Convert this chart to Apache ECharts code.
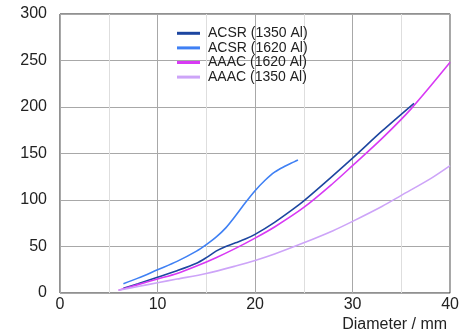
<!DOCTYPE html>
<html>
<head>
<meta charset="utf-8">
<script src="https://cdn.jsdelivr.net/npm/echarts@6/dist/echarts.min.js"></script>
<style>
  html, body { margin: 0; padding: 0; background: #fff; }
  #chart { width: 462px; height: 336px; }
</style>
</head>
<body>
<div id="chart"></div>
<script>
// conductor mass vs diameter

const seriesNames = ['ACSR (1350 Al)', 'ACSR (1620 Al)', 'AAAC (1620 Al)', 'AAAC (1350 Al)'];
const seriesColors = ['#1d46a0', '#3f80f4', '#d83af4', '#cda4f8'];

// [diameter mm, value]
const acsr1350 = [[6.5, 5], [8, 10], [10, 17], [12, 24], [14, 32], [15, 38], [16, 45], [17, 50], [18, 54], [19, 58], [20, 63], [22, 76], [24, 91], [25, 99], [27, 117], [30, 145], [33, 174], [36.3, 204]];
const acsr1620 = [[6.5, 10], [8, 16], [10, 25], [12, 34], [14, 45], [15, 52], [16, 60], [17, 70], [18, 83], [19, 97], [20, 110], [21, 121], [22, 130], [23, 136], [24, 141], [24.4, 143]];
const aaac1620 = [[6, 3], [8, 9], [10, 15], [12, 21], [14, 29], [16, 38], [18, 48], [20, 59], [22, 71], [25, 92], [28, 118], [30, 137], [33, 166], [36, 198], [40, 248]];
const aaac1350 = [[6, 3], [8, 7], [10, 11], [12, 15], [15, 21], [18, 29], [20, 35], [22, 42], [25, 54], [28, 67], [30, 77], [33, 93], [35, 105], [38, 123], [40, 137]];

const xMin = 0, xMax = 40, xStep = 10;
const yMin = 0, yMax = 300, yStep = 50;

const allData = [acsr1350, acsr1620, aaac1620, aaac1350];
const font = 'Liberation Sans, Arial, sans-serif';

const chart = echarts.init(document.getElementById('chart'));
chart.setOption({
    animation: false,
    grid: { left: 60, right: 11, top: 14, bottom: 43, show: true, borderColor: '#222', borderWidth: 1 },
    legend: {
        orient: 'vertical',
        left: 172, top: 21,
        icon: 'rect',
        itemWidth: 23, itemHeight: 3,
        itemGap: 0,
        textStyle: { fontFamily: font, fontSize: 14, color: '#222', lineHeight: 14.6, padding: [0, 0, 0, 3] },
        data: seriesNames
    },
    xAxis: {
        type: 'value',
        min: xMin, max: xMax, interval: xStep,
        name: 'Diameter / mm',
        nameLocation: 'end',
        nameGap: -3,
        nameTextStyle: { fontFamily: font, fontSize: 16, color: '#222', align: 'right', verticalAlign: 'top', padding: [24, 0, 0, 0] },
        axisLine: { show: false },
        axisTick: { show: false },
        axisLabel: { fontFamily: font, fontSize: 16, color: '#222', margin: 4 },
        splitLine: { show: true, lineStyle: { color: '#a8a8a8', width: 1 } },
        minorTick: { show: false, splitNumber: 2 },
        minorSplitLine: { show: true, lineStyle: { color: '#dedede', width: 1 } }
    },
    yAxis: {
        type: 'value',
        min: yMin, max: yMax, interval: yStep,
        axisLine: { show: false },
        axisTick: { show: false },
        axisLabel: { fontFamily: font, fontSize: 16, color: '#222', margin: 13 },
        splitLine: { show: true, lineStyle: { color: '#a8a8a8', width: 1 } }
    },
    series: seriesNames.map((name, i) => ({
        name: name,
        type: 'line',
        smooth: 0.3,
        showSymbol: false,
        color: seriesColors[i],
        lineStyle: { width: 1.6 },
        data: allData[i]
    }))
});
</script>
</body>
</html>
